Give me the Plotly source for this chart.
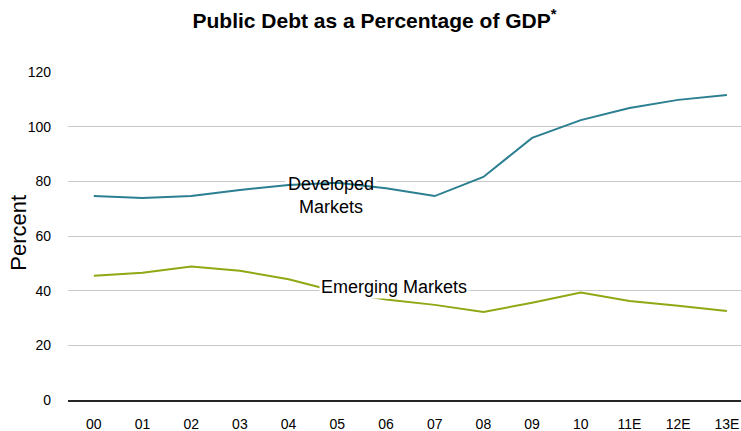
import plotly.graph_objects as go

# Fiscal years (E = estimate)
years = ["00", "01", "02", "03", "04", "05", "06", "07", "08", "09", "10", "11E", "12E", "13E"]

# Public debt as % of GDP
developed = [74.6, 73.9, 74.6, 76.8, 78.7, 79.5, 77.5, 74.6, 81.6, 95.9, 102.4, 106.8, 109.8, 111.6]
emerging = [45.5, 46.6, 48.8, 47.3, 44.2, 39.6, 36.8, 34.8, 32.2, 35.6, 39.3, 36.2, 34.5, 32.6]

y_ticks = [0, 20, 40, 60, 80, 100, 120]

dev_color = "#2B7F90"
emg_color = "#8FA814"
tick_font = dict(family="Liberation Sans Narrow, Arial Narrow, Liberation Sans, Arial", size=14, color="#000000")
label_font = dict(family="Liberation Sans, Arial", size=18, color="#000000")

fig = go.Figure()

fig.add_trace(go.Scatter(
    x=years, y=developed, mode="lines",
    line=dict(color=dev_color, width=2), name="Developed Markets",
))
fig.add_trace(go.Scatter(
    x=years, y=emerging, mode="lines",
    line=dict(color=emg_color, width=2), name="Emerging Markets",
))

# white patch behind "Developed" hides the gridline but keeps the series line visible
fig.add_shape(
    type="rect", xref="x", yref="y",
    x0=3.93, x1=5.81, y0=77.0, y1=83.4,
    fillcolor="white", line=dict(width=0), layer="between",
)

fig.add_annotation(
    x=4.87, y=75.0, xref="x", yref="y",
    text="Developed<br>Markets", showarrow=False,
    font=label_font, align="center",
)
fig.add_annotation(
    x=6.16, y=41.2, xref="x", yref="y",
    text="Emerging Markets", showarrow=False,
    font=label_font, bgcolor="white", borderpad=1,
)

# vertical axis title
fig.add_annotation(
    x=-0.0728, y=0.51, xref="paper", yref="paper",
    xanchor="center", yanchor="middle",
    text="Percent", textangle=-90, showarrow=False,
    font=dict(family="Liberation Sans, Arial", size=22, color="#000000"),
)

fig.update_layout(
    width=741, height=431,
    margin=dict(l=68, r=0, t=72, b=31),
    paper_bgcolor="white", plot_bgcolor="white",
    showlegend=False,
    title=dict(
        text="<b>Public Debt as a Percentage of GDP<sup>*</sup></b>",
        x=0.5054, xref="container", xanchor="center",
        y=0.953, yanchor="middle",
        font=dict(family="Liberation Sans, Arial", size=21, color="#000000"),
    ),
    xaxis=dict(
        type="category",
        range=[-0.53, 13.29],
        showgrid=False,
        showline=True, linecolor="#262626", linewidth=1.5,
        ticks="", tickfont=tick_font,
        ticklabelstandoff=10,
    ),
    yaxis=dict(
        range=[0, 120],
        tickvals=y_ticks,
        showgrid=True, gridcolor="#C8C8C8", gridwidth=1,
        zeroline=False,
        showline=False,
        ticks="", tickfont=tick_font,
        ticklabelstandoff=16,
    ),
)

fig.write_html("out.html")
